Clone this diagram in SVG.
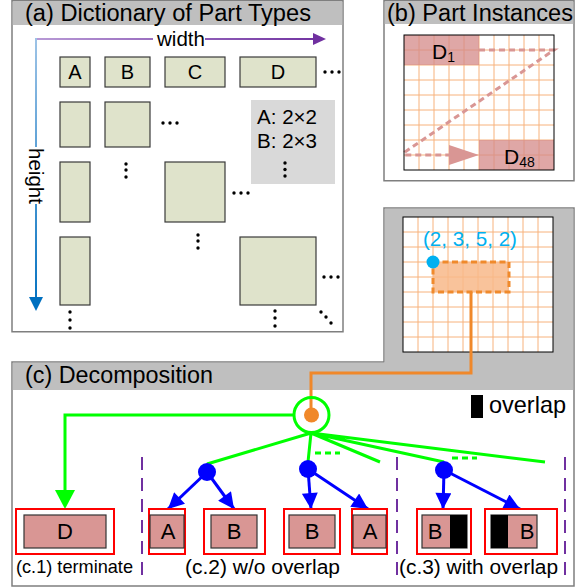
<svg xmlns="http://www.w3.org/2000/svg" width="583" height="588" viewBox="0 0 583 588">
<defs>
<style>
text{font-family:"Liberation Sans",Arial,sans-serif;fill:#000}
.frame{fill:#fff;stroke:#7f7f7f;stroke-width:1.5}
.bar{fill:#bfbfbf}
.part{fill:#dfe3cb;stroke:#3a3a3a;stroke-width:1.2}
.pl{font-size:20px;text-anchor:middle}
.dot{fill:#000}
.gridb{stroke:#f7b27c;stroke-width:1;fill:none}
.red{fill:#fff;stroke:#ff0000;stroke-width:2}
.pink{fill:#d99694;stroke:#333;stroke-width:1.2}
.blk{fill:#000}
.bl{stroke:#0000ff;stroke-width:3;fill:none;marker-end:url(#ba)}
.gr{stroke:#00ff00;stroke-width:3;fill:none}
.pd{stroke:#7030a0;stroke-width:2;stroke-dasharray:13,8;fill:none}
.cl{font-size:22px;text-anchor:middle}
</style>
<linearGradient id="gw" gradientUnits="userSpaceOnUse" x1="36" y1="0" x2="326" y2="0"><stop offset="0" stop-color="#b89ad6"/><stop offset="1" stop-color="#7030a0"/></linearGradient>
<linearGradient id="gh" gradientUnits="userSpaceOnUse" x1="0" y1="39" x2="0" y2="311"><stop offset="0" stop-color="#9dc3e6"/><stop offset="1" stop-color="#0070c0"/></linearGradient>
<marker id="ba" viewBox="0 0 10 10" refX="10" refY="5" markerWidth="18" markerHeight="16" markerUnits="userSpaceOnUse" orient="auto"><path d="M0,0L10,5L0,10z" fill="#0000ff"/></marker>
</defs>

<!-- Panel (a) -->
<g id="panel-a">
<rect class="frame" x="12" y="0.75" width="331" height="331"/>
<rect class="bar" x="12.75" y="1.5" width="329.5" height="23.5"/>
<text x="25" y="20.5" font-size="23" textLength="286" lengthAdjust="spacingAndGlyphs">(a) Dictionary of Part Types</text>
</g>
<g id="axis-width">
<path d="M36,39H153M205,39H314" stroke="url(#gw)" stroke-width="2" fill="none"/>
<polygon points="313,33 326,39 313,45" fill="#7030a0"/>
<text x="157" y="46" font-size="20" textLength="48" lengthAdjust="spacingAndGlyphs">width</text>
</g>
<g id="axis-height">
<path d="M36,38V147M36,204V299" stroke="url(#gh)" stroke-width="2" fill="none"/>
<polygon points="29,297 43,297 36,311" fill="#0070c0"/>
<text transform="translate(29,148) rotate(90)" x="0" y="0" font-size="20" textLength="56" lengthAdjust="spacingAndGlyphs">height</text>
</g>
<g id="type-A"><rect class="part" x="60" y="57" width="30" height="30"/><text class="pl" x="75" y="79">A</text></g>
<g id="type-B"><rect class="part" x="105" y="57" width="45" height="30"/><text class="pl" x="127.5" y="79">B</text></g>
<g id="type-C"><rect class="part" x="165" y="57" width="60" height="30"/><text class="pl" x="195" y="79">C</text></g>
<g id="type-D"><rect class="part" x="240" y="57" width="76" height="30"/><text class="pl" x="278" y="79">D</text></g>
<g id="types-more">
<rect class="part" x="60" y="102" width="30" height="45"/>
<rect class="part" x="105" y="102" width="45" height="45"/>
<rect class="part" x="60" y="162" width="30" height="60"/>
<rect class="part" x="165" y="162" width="60" height="60"/>
<rect class="part" x="60" y="237" width="30" height="68"/>
<rect class="part" x="240" y="237" width="76" height="68"/>
</g>
<g id="dots-a" class="dot">
<circle cx="325" cy="72" r="1.7"/><circle cx="332" cy="72" r="1.7"/><circle cx="339" cy="72" r="1.7"/>
<circle cx="163" cy="123" r="1.7"/><circle cx="170" cy="123" r="1.7"/><circle cx="177" cy="123" r="1.7"/>
<circle cx="126" cy="164" r="1.7"/><circle cx="126" cy="170" r="1.7"/><circle cx="126" cy="177" r="1.7"/>
<circle cx="234" cy="193" r="1.7"/><circle cx="241" cy="193" r="1.7"/><circle cx="248" cy="193" r="1.7"/>
<circle cx="198" cy="235" r="1.7"/><circle cx="198" cy="241" r="1.7"/><circle cx="198" cy="248" r="1.7"/>
<circle cx="70" cy="312" r="1.7"/><circle cx="70" cy="320" r="1.7"/><circle cx="70" cy="328" r="1.7"/>
<circle cx="324" cy="277" r="1.7"/><circle cx="331" cy="277" r="1.7"/><circle cx="338" cy="277" r="1.7"/>
<circle cx="275" cy="311" r="1.7"/><circle cx="275" cy="318" r="1.7"/><circle cx="275" cy="326" r="1.7"/>
<circle cx="321" cy="312" r="1.7"/><circle cx="326" cy="317" r="1.7"/><circle cx="331" cy="323" r="1.7"/>
</g>
<g id="size-legend">
<rect x="251" y="100" width="84" height="84" fill="#d9d9d9"/>
<text x="257" y="124" font-size="19.5" textLength="60" lengthAdjust="spacingAndGlyphs">A: 2×2</text>
<text x="257" y="148" font-size="19.5" textLength="60" lengthAdjust="spacingAndGlyphs">B: 2×3</text>
<circle cx="285" cy="163" r="1.7"/><circle cx="285" cy="169.5" r="1.7"/><circle cx="285" cy="176" r="1.7"/>
</g>

<!-- Panel (b) -->
<g id="panel-b">
<rect class="frame" x="384" y="0.75" width="190" height="180"/>
<rect class="bar" x="384.75" y="1.5" width="188.5" height="22.5"/>
<text x="387" y="20.7" font-size="23" textLength="186" lengthAdjust="spacingAndGlyphs">(b) Part Instances</text>
<rect x="404" y="35" width="150" height="135" fill="#fff"/>
<path class="gridb" d="M419,35V170M434,35V170M449,35V170M464,35V170M479,35V170M494,35V170M509,35V170M524,35V170M539,35V170M404,50H554M404,65H554M404,80H554M404,95H554M404,110H554M404,125H554M404,140H554M404,155H554"/>
<rect x="404" y="35" width="75" height="30" fill="#d48a88" fill-opacity="0.75"/>
<rect x="479" y="140" width="75" height="30" fill="#d48a88" fill-opacity="0.75"/>
<path d="M479,50H554L405,152L404,155H449" stroke="#d99694" stroke-width="3" stroke-dasharray="6,4" fill="none"/>
<polygon points="449,145 479,155 449,165" fill="#d99694"/>
<rect x="404" y="35" width="150" height="135" fill="none" stroke="#000" stroke-width="1"/>
<text x="432" y="58.5" font-size="21">D<tspan font-size="14" dy="3">1</tspan></text>
<text x="504" y="163.5" font-size="21">D<tspan font-size="14" dy="3">48</tspan></text>
</g>

<!-- Panel (c) -->
<g id="panel-c">
<path class="frame" d="M12,362H384V208H574V586H12Z"/>
<path class="bar" d="M12.75,362.75H384.75V208.75H573.25V390H12.75Z"/>
<text x="25" y="382.5" font-size="23" textLength="188" lengthAdjust="spacingAndGlyphs">(c) Decomposition</text>
</g>
<g id="grid-c">
<rect x="403" y="217" width="150" height="135" fill="#fff"/>
<path class="gridb" d="M418,217V352M433,217V352M448,217V352M463,217V352M478,217V352M493,217V352M508,217V352M523,217V352M538,217V352M403,232H553M403,247H553M403,262H553M403,277H553M403,292H553M403,307H553M403,322H553M403,337H553"/>
<rect x="403" y="217" width="150" height="135" fill="none" stroke="#000" stroke-width="1"/>
<rect x="433" y="262" width="76" height="30" fill="#f8b98a" fill-opacity="0.85" stroke="#f08a2c" stroke-width="3" stroke-dasharray="6,3.5"/>
<circle cx="433" cy="262" r="6.5" fill="#00b0f0"/>
<text x="423" y="246" font-size="21" style="fill:#00b0f0" textLength="94" lengthAdjust="spacingAndGlyphs">(2, 3, 5, 2)</text>
</g>
<g id="overlap-legend">
<rect x="471" y="395" width="12" height="23" class="blk"/>
<text x="489" y="412.5" font-size="24" textLength="77" lengthAdjust="spacingAndGlyphs">overlap</text>
</g>

<g id="connectors">
<path d="M471,292V373H311V410" stroke="#f0882a" stroke-width="3" fill="none"/>
<path class="gr" d="M293,415H65V492"/>
<polygon points="55,490 75,490 65,509" fill="#00ff00"/>
<path class="gr" d="M311,433L207,464M311,433L308,462M311,433L380,462M311,433L444,462M311,433L545,462"/>
<path class="gr" d="M315,453H340M452,458H477" stroke-dasharray="6,4"/>
<path class="bl" d="M207,472L168,509"/>
<path class="bl" d="M207,472L234,509"/>
<path class="bl" d="M308,469L311,509"/>
<path class="bl" d="M308,469L368,509"/>
<path class="bl" d="M444,470L443,509"/>
<path class="bl" d="M444,470L520,509"/>
<path class="pd" d="M142,457V583M397,457V583M565,457V583"/>
</g>

<g id="root-node">
<circle cx="311.5" cy="415" r="17.5" fill="none" stroke="#00ff00" stroke-width="3"/>
<circle cx="311.5" cy="415" r="7.5" fill="#f0882a"/>
</g>
<g id="split-1"><circle cx="207" cy="472" r="9" fill="#0000ff"/></g>
<g id="split-2"><circle cx="308" cy="469" r="9" fill="#0000ff"/></g>
<g id="split-3"><circle cx="444" cy="470" r="9" fill="#0000ff"/></g>

<g id="c1-D"><rect class="red" x="16" y="509" width="98" height="45"/><rect class="pink" x="24" y="515" width="82" height="33"/><text class="cl" x="65" y="539">D</text></g>
<g id="c2-A"><rect class="red" x="149" y="509" width="36" height="45"/><rect class="pink" x="150" y="515" width="34" height="33"/><text class="cl" x="168" y="539">A</text></g>
<g id="c2-B"><rect class="red" x="204" y="509" width="61" height="45"/><rect class="pink" x="211" y="515" width="46" height="33"/><text class="cl" x="234" y="539">B</text></g>
<g id="c2-B2"><rect class="red" x="284" y="509" width="56" height="45"/><rect class="pink" x="289" y="515" width="46" height="33"/><text class="cl" x="312" y="539">B</text></g>
<g id="c2-A2"><rect class="red" x="352" y="509" width="35" height="45"/><rect class="pink" x="353" y="515" width="33" height="33"/><text class="cl" x="370" y="539">A</text></g>
<g id="c3-B"><rect class="red" x="417" y="509" width="54" height="45"/><rect class="pink" x="422" y="515" width="45" height="33"/><rect class="blk" x="450" y="515" width="17" height="33"/><text class="cl" x="435" y="539">B</text></g>
<g id="c3-B2"><rect class="red" x="485" y="509" width="72" height="45"/><rect class="pink" x="491" y="515" width="46" height="33"/><rect class="blk" x="491" y="515" width="17" height="33"/><text class="cl" x="527" y="539">B</text></g>

<g id="c-labels">
<text x="16" y="573" font-size="18.5" textLength="117" lengthAdjust="spacingAndGlyphs">(c.1) terminate</text>
<text x="185" y="574" font-size="20" textLength="155" lengthAdjust="spacingAndGlyphs">(c.2) w/o overlap</text>
<text x="399" y="574" font-size="20" textLength="159" lengthAdjust="spacingAndGlyphs">(c.3) with overlap</text>
</g>
</svg>
